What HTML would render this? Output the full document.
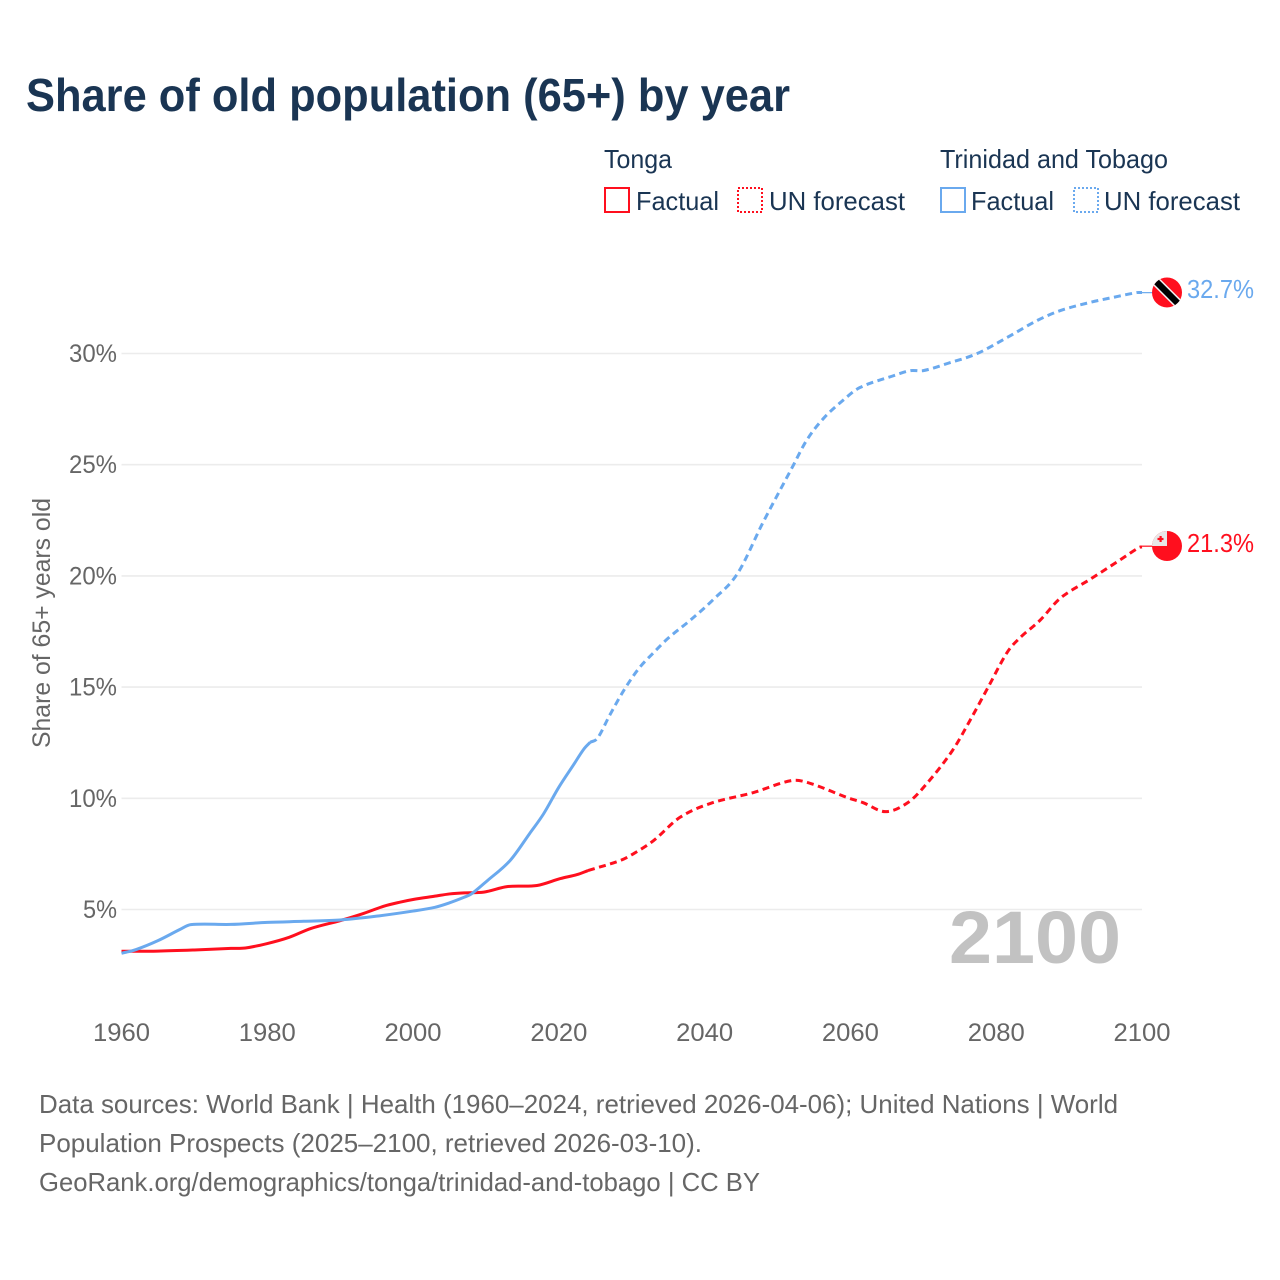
<!DOCTYPE html>
<html lang="en">
<head>
<meta charset="utf-8">
<title>Share of old population (65+) by year</title>
<style>
html,body{margin:0;padding:0;background:#fff;}
svg{display:block;font-family:"Liberation Sans",sans-serif;}
</style>
</head>
<body>
<svg id="chart" width="1280" height="1280" viewBox="0 0 1280 1280" xmlns="http://www.w3.org/2000/svg">
  <defs>
    <clipPath id="flag-clip-tt"><circle id="clip-tt" cx="1167" cy="292" r="15"></circle></clipPath>
    <clipPath id="flag-clip-to"><circle id="clip-to" cx="1167" cy="546" r="15"></circle></clipPath>
  </defs>
  <rect width="1280" height="1280" fill="#fff"></rect>
  <text x="26" y="111" font-size="46" font-weight="700" fill="#1a3553" textLength="764" lengthAdjust="spacingAndGlyphs">Share of old population (65+) by year</text>

  <g font-size="26" fill="#1a3553">
    <text x="604" y="168" textLength="68" lengthAdjust="spacingAndGlyphs">Tonga</text>
    <g>
      <rect x="605" y="188" width="24" height="24" fill="none" stroke="#ff0f1e" stroke-width="2"></rect>
      <text x="636" y="210" textLength="83" lengthAdjust="spacingAndGlyphs">Factual</text>
    </g>
    <g>
      <rect x="738" y="188" width="24" height="24" fill="none" stroke="#ff0f1e" stroke-width="2" stroke-dasharray="2 2"></rect>
      <text x="769" y="210" textLength="136" lengthAdjust="spacingAndGlyphs">UN forecast</text>
    </g>
    <text x="940" y="168" textLength="228" lengthAdjust="spacingAndGlyphs">Trinidad and Tobago</text>
    <g>
      <rect x="941" y="188" width="24" height="24" fill="none" stroke="#6aa9ee" stroke-width="2"></rect>
      <text x="971" y="210" textLength="83" lengthAdjust="spacingAndGlyphs">Factual</text>
    </g>
    <g>
      <rect x="1074" y="188" width="24" height="24" fill="none" stroke="#6aa9ee" stroke-width="2" stroke-dasharray="2 2"></rect>
      <text x="1104" y="210" textLength="136" lengthAdjust="spacingAndGlyphs">UN forecast</text>
    </g>
  </g>

  <g id="grid"></g>
  <g id="yticks"></g>
  <g id="xticks"></g>
  <text transform="translate(50 623) rotate(-90)" text-anchor="middle" font-size="25" fill="#666" textLength="250" lengthAdjust="spacingAndGlyphs">Share of 65+ years old</text>
  <text x="949" y="963" font-size="74" font-weight="700" fill="#c2c2c2" textLength="172" lengthAdjust="spacingAndGlyphs">2100</text>
  <g id="series"></g>

  <g id="flag-tt" clip-path="url(#flag-clip-tt)"></g>
  <g id="flag-to" clip-path="url(#flag-clip-to)"></g>
  <text id="label-tt" x="1187" font-size="26" fill="#6aa9ee" textLength="67" lengthAdjust="spacingAndGlyphs"></text>
  <text id="label-to" x="1187" font-size="26" fill="#ff0f1e" textLength="67" lengthAdjust="spacingAndGlyphs"></text>

  <g font-size="26" fill="#666">
    <text x="39" y="1113" textLength="1079" lengthAdjust="spacingAndGlyphs">Data sources: World Bank | Health (1960–2024, retrieved 2026-04-06); United Nations | World</text>
    <text x="39" y="1152" textLength="663" lengthAdjust="spacingAndGlyphs">Population Prospects (2025–2100, retrieved 2026-03-10).</text>
    <text x="39" y="1191" textLength="721" lengthAdjust="spacingAndGlyphs">GeoRank.org/demographics/tonga/trinidad-and-tobago | CC BY</text>
  </g>
</svg>
<script>
const yTickValues = [5, 10, 15, 20, 25, 30];
const xTickValues = [1960, 1980, 2000, 2020, 2040, 2060, 2080, 2100];

const tongaFactualYears = [1960, 1965, 1970, 1975, 1977, 1980, 1983, 1986, 1990, 1993, 1996, 1998.2, 2000, 2003, 2005, 2007, 2009.7, 2012.9, 2017, 2020.2, 2022.5, 2024];
const tongaFactualValues = [3.12, 3.13, 3.18, 3.25, 3.27, 3.47, 3.75, 4.15, 4.5, 4.8, 5.15, 5.33, 5.45, 5.6, 5.7, 5.75, 5.78, 6.03, 6.08, 6.39, 6.57, 6.75];
const tongaForecastYears = [2024, 2025, 2028.4, 2030.2, 2033, 2036.6, 2040.8, 2046.7, 2052, 2054.5, 2059.5, 2061.7, 2064.8, 2067.9, 2070.5, 2074, 2076.4, 2078.9, 2081.5, 2083.3, 2086, 2088.8, 2092.9, 2097, 2099.6, 2100];
const tongaForecastValues = [6.75, 6.85, 7.2, 7.5, 8.1, 9.14, 9.77, 10.26, 10.8, 10.67, 10.04, 9.81, 9.4, 9.81, 10.67, 12.15, 13.5, 15, 16.56, 17.23, 18, 19, 19.85, 20.72, 21.28, 21.3];

const trinidadFactualYears = [1960, 1962, 1965, 1968, 1969.5, 1975, 1980, 1985, 1990, 1995, 2000, 2003, 2005, 2007, 2008, 2010.2, 2013.3, 2016, 2017.9, 2020, 2022, 2023.4, 2024.3];
const trinidadFactualValues = [3.03, 3.2, 3.6, 4.1, 4.32, 4.33, 4.42, 4.47, 4.53, 4.7, 4.93, 5.1, 5.3, 5.55, 5.7, 6.3, 7.2, 8.42, 9.3, 10.5, 11.5, 12.2, 12.52];
const trinidadForecastYears = [2024.3, 2025.3, 2027, 2029, 2031, 2033, 2035, 2038, 2041.2, 2044.5, 2048, 2052, 2054, 2056.3, 2059, 2061.3, 2065.9, 2068.2, 2070, 2073.3, 2077.4, 2081.5, 2085.6, 2088.8, 2092.9, 2096, 2099.3, 2100];
const trinidadForecastValues = [12.52, 12.7, 13.75, 14.9, 15.85, 16.55, 17.2, 18.0, 18.94, 20.1, 22.4, 24.87, 26.1, 27.08, 27.9, 28.47, 29.0, 29.23, 29.23, 29.55, 30.0, 30.72, 31.48, 31.93, 32.3, 32.52, 32.74, 32.74];

const tongaEndValue = 21.3;
const trinidadEndValue = 32.7;

const SVG_NS = 'http://www.w3.org/2000/svg';
const COLOR_TONGA = '#ff0f1e';
const COLOR_TRINIDAD = '#6aa9ee';

function xScale(year) { return 121.5 + (year - 1960) * (1142 - 121.5) / 140; }
function yScale(value) { return 909.5 - (value - 5) * 22.24; }

function make(tag, attrs, parent) {
  const el = document.createElementNS(SVG_NS, tag);
  Object.keys(attrs).forEach(function (k) { el.setAttribute(k, attrs[k]); });
  parent.appendChild(el);
  return el;
}

function smoothPath(years, values) {
  const px = years.map(xScale);
  const py = values.map(yScale);
  const n = px.length;
  const slope = [];
  for (let i = 0; i < n; i++) {
    const a = Math.max(i - 1, 0);
    const b = Math.min(i + 1, n - 1);
    slope.push((py[b] - py[a]) / (px[b] - px[a]));
  }
  let d = 'M' + px[0].toFixed(2) + ' ' + py[0].toFixed(2);
  for (let i = 1; i < n; i++) {
    const dx = (px[i] - px[i - 1]) / 3;
    d += 'C' + (px[i - 1] + dx).toFixed(2) + ' ' + (py[i - 1] + slope[i - 1] * dx).toFixed(2) +
      ' ' + (px[i] - dx).toFixed(2) + ' ' + (py[i] - slope[i] * dx).toFixed(2) +
      ' ' + px[i].toFixed(2) + ' ' + py[i].toFixed(2);
  }
  return d;
}

const grid = document.getElementById('grid');
const yticks = document.getElementById('yticks');
const xticks = document.getElementById('xticks');
const series = document.getElementById('series');

yTickValues.forEach(function (v) {
  const line = make('line', { x1: xScale(1960), x2: 1142, y1: yScale(v), y2: yScale(v), stroke: '#ececec', 'stroke-width': 1.6 }, grid);
  
  
  const t = make('text', { x: 117, y: yScale(v) + 8.5, 'text-anchor': 'end', 'font-size': 25, fill: '#666' }, yticks);
  
  
  t.setAttribute('textLength', v < 10 ? 34 : 48);
  t.setAttribute('lengthAdjust', 'spacingAndGlyphs');
  t.textContent = v + '%';
});

xTickValues.forEach(function (v) {
  const t = make('text', { x: xScale(v), y: 1041, 'text-anchor': 'middle', 'font-size': 25, fill: '#666' }, xticks);
  
  
  t.setAttribute('textLength', 57);
  t.setAttribute('lengthAdjust', 'spacingAndGlyphs');
  t.textContent = v;
});

function drawSeries(years, values, color, dashed, name) {
  const attrs = { d: smoothPath(years, values), fill: 'none', stroke: color, 'stroke-width': 3, 'stroke-linejoin': 'round' };
  if (dashed) { attrs['stroke-dasharray'] = '7 4.5'; }
  const p = make('path', attrs, series);
  
  
}

drawSeries(tongaForecastYears, tongaForecastValues, COLOR_TONGA, true, 'tonga-forecast-line');
drawSeries(tongaFactualYears, tongaFactualValues, COLOR_TONGA, false, 'tonga-factual-line');
drawSeries(trinidadForecastYears, trinidadForecastValues, COLOR_TRINIDAD, true, 'trinidad-forecast-line');
drawSeries(trinidadFactualYears, trinidadFactualValues, COLOR_TRINIDAD, false, 'trinidad-factual-line');

function drawConnector(value, color, name) {
  const c = make('line', { x1: xScale(2100) - 2, x2: 1153, y1: yScale(value) - 0.8, y2: yScale(value) - 0.8, stroke: color, 'stroke-width': 1.2 }, series);
  
  
}
drawConnector(tongaEndValue, COLOR_TONGA, 'tonga-end-connector');
drawConnector(trinidadEndValue, COLOR_TRINIDAD, 'trinidad-end-connector');

const cx = 1167;
const ttY = yScale(trinidadEndValue) - 1;
const toY = yScale(tongaEndValue) - 1;
document.getElementById('clip-tt').setAttribute('cy', ttY);
document.getElementById('clip-to').setAttribute('cy', toY);

const flagTT = document.getElementById('flag-tt');
make('rect', { x: cx - 15, y: ttY - 15, width: 30, height: 30, fill: '#ff0f1e' }, flagTT);
make('line', { x1: cx - 16, y1: ttY - 16, x2: cx + 16, y2: ttY + 16, stroke: '#f2f2f2', 'stroke-width': 9.5 }, flagTT);
make('line', { x1: cx - 16, y1: ttY - 16, x2: cx + 16, y2: ttY + 16, stroke: '#000', 'stroke-width': 6.5 }, flagTT);

const flagTO = document.getElementById('flag-to');
make('rect', { x: cx - 15, y: toY - 15, width: 30, height: 30, fill: '#ff0f1e' }, flagTO);
make('rect', { x: cx - 15, y: toY - 15, width: 15, height: 15, fill: '#e8e8e8' }, flagTO);
make('rect', { x: cx - 7.5, y: toY - 10, width: 2.2, height: 6, fill: '#ff0f1e' }, flagTO);
make('rect', { x: cx - 9.5, y: toY - 8.1, width: 6, height: 2.2, fill: '#ff0f1e' }, flagTO);

const labelTT = document.getElementById('label-tt');
labelTT.setAttribute('y', ttY + 5.5);
labelTT.textContent = trinidadEndValue.toFixed(1) + '%';
const labelTO = document.getElementById('label-to');
labelTO.setAttribute('y', toY + 6);
labelTO.textContent = tongaEndValue.toFixed(1) + '%';
</script>
</body>
</html>
